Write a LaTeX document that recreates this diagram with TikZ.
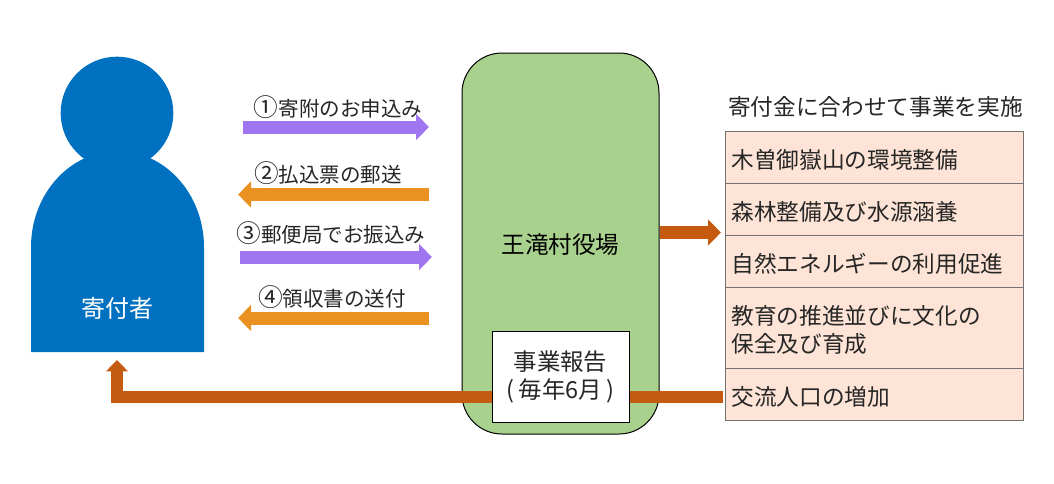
\documentclass[tikz,border=0pt]{standalone}
\usepackage{fontspec}
\setmainfont{Noto Sans CJK JP}
\usetikzlibrary{arrows.meta}
\definecolor{donorblue}{HTML}{0070C0}
\definecolor{officegreen}{HTML}{A9D18E}
\definecolor{sendpurple}{HTML}{9F75F0}
\definecolor{backorange}{HTML}{E99222}
\definecolor{flowbrown}{HTML}{C55A11}
\definecolor{cellpeach}{HTML}{FDE4D6}
\newcommand{\stepmark}[1]{{\fontsize{18.5}{21}\selectfont #1}}

\begin{document}
\begin{tikzpicture}[x=0.75pt, y=-0.75pt,
	labeltext/.style={font=\fontsize{15.4}{21}\selectfont, inner sep=0pt, text=black!85},
	bigtext/.style={font=\fontsize{17}{21}\selectfont, text=black!85},
	blockarrow/.style={line width=9.75pt, -{Triangle[length=9.75pt,width=19pt]}},
	flowarrow/.style={line width=8.5pt, -{Triangle[length=8.5pt,width=16pt]}, flowbrown},
	cell/.style={bigtext, draw=black!55, fill=cellpeach, line width=0.75pt, anchor=north west,
		minimum width=223.5pt, text width=214.5pt, inner xsep=4.5pt, inner ysep=0pt, align=left,
		execute at begin node={\rule{0pt}{17.5pt}}}]
	\useasboundingbox (0,0) rectangle (1054,483);
	%%% Donor
	\node [circle, fill=donorblue, minimum size=84.5pt, inner sep=0pt] (head) at (117,113) {};
	\fill[donorblue] (31,352) -- (31,247) .. controls (31,194) and (70,151) .. (117.5,151)
		.. controls (165,151) and (204,194) .. (204,247) -- (204,352) -- cycle;
	\node [font=\fontsize{18}{21}\selectfont, white, inner sep=0pt] (donor) at (117.5,308) {寄付者};
	\coordinate (donorfoot) at (117,360);
	%%% Exchanges
	\coordinate (astart) at (243,127);
	\coordinate (aend) at (429,127);
	\coordinate (bstart) at (429,194.5);
	\coordinate (bend) at (238,194.5);
	\coordinate (cstart) at (240,257);
	\coordinate (cend) at (432,257);
	\coordinate (dstart) at (429,318);
	\coordinate (dend) at (238,318);
	\draw[blockarrow, sendpurple] (astart) -- (aend);
	\draw[blockarrow, backorange] (bstart) -- (bend);
	\draw[blockarrow, sendpurple] (cstart) -- (cend);
	\draw[blockarrow, backorange] (dstart) -- (dend);
	\node [labeltext] (alabel) at (338,107.5) {\stepmark{①}寄附のお申込み};
	\node [labeltext] (blabel) at (328,173.5) {\stepmark{②}払込票の郵送};
	\node [labeltext] (clabel) at (331,233.5) {\stepmark{③}郵便局でお振込み};
	\node [labeltext] (dlabel) at (332,297.5) {\stepmark{④}領収書の送付};
	%%% Village office
	\node [font=\fontsize{17.7}{21}\selectfont, draw=black, fill=officegreen, line width=0.75pt, rounded corners=30pt,
		minimum width=147.75pt, minimum height=285.75pt, text depth=-5pt] (office) at (560.5,243.5) {王滝村役場};
	%%% Projects
	\node [bigtext, inner sep=0pt] (heading) at (875.5,107) {寄付金に合わせて事業を実施};
	\node [cell, minimum height=39pt] (kiso) at (725,131) {木曽御嶽山の環境整備};
	\node [cell, minimum height=39pt] (forest) at (725,183) {森林整備及び水源涵養};
	\node [cell, minimum height=39pt] (energy) at (725,235) {自然エネルギーの利用促進};
	\node [cell, minimum height=60.75pt] (school) at (725,287) {教育の推進並びに文化の\\保全及び育成};
	\node [cell, minimum height=39pt] (visitors) at (725,368) {交流人口の増加};
	\coordinate (projin) at (721,232.5);
	\draw[blockarrow, flowbrown] (office.east |- projin) -- (projin);
	%%% Report back
	\coordinate (retstart) at (723,397);
	\draw[flowarrow] (retstart) -| (donorfoot);
	\node [draw=black, fill=white, line width=0.75pt, font=\fontsize{17.6}{21}\selectfont, text=black!85, align=center,
		minimum width=102.75pt, minimum height=68.25pt, inner sep=0pt, execute at begin node=\vspace{3pt}] (report) at (560.5,376.5)
		{事業報告\\(\,毎年6月\,)};
\end{tikzpicture}
\end{document}
